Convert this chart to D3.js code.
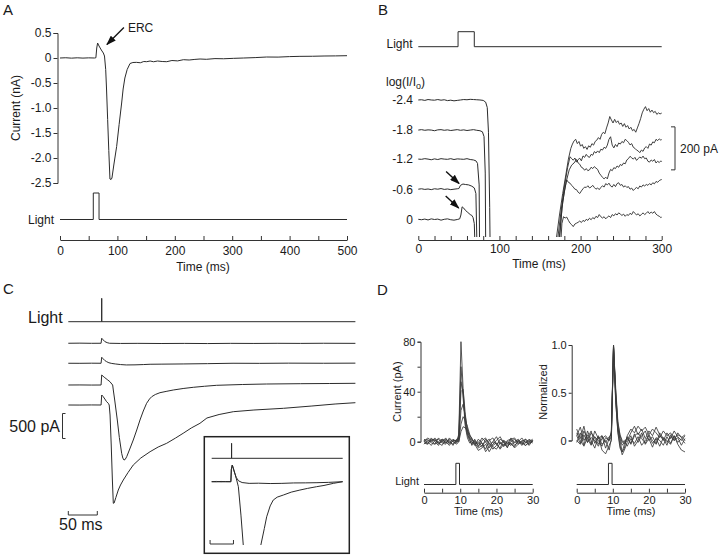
<!DOCTYPE html>
<html>
<head>
<meta charset="utf-8">
<script src="https://cdn.jsdelivr.net/npm/d3@7"></script>
<style>
  body { margin: 0; background: #fff; }
  svg { display: block; font-family: "Liberation Sans", Arial, Helvetica, sans-serif; }
</style>
</head>
<body>
<div id="app"></div>
<script>
const FONT = '"Liberation Sans", Arial, Helvetica, sans-serif'
const INK = "#2b2b2b"

// ---------- data: panel A ----------
const aCurrentTicks = [0.5, 0, -0.5, -1, -1.5, -2, -2.5]
const aTimeTicks = d3.range(0, 501, 50)
const aLight = [[0,0],[58,0],[58,1],[68,1],[68,0],[500,0]]
const aCurrent = [[0,0],[10,0.005],[20,-0.003],[30,0.004],[40,-0.002],[50,0.003],[60,0],[62.5,0.005],[64,0.2],[65.5,0.3],[68,0.24],[72,0.16],[75.5,0.1],[77.5,0.04],[79.6,-0.23],[81,-0.6],[83,-1.23],[85,-1.85],[87,-2.42],[89,-2.43],[90.5,-2.4],[94,-2.12],[98.7,-1.77],[103,-1.33],[107.4,-0.9],[110,-0.62],[113,-0.4],[117,-0.23],[122,-0.11],[127,-0.09],[133,-0.087],[140,-0.095],[146,-0.07],[151,-0.074],[157,-0.06],[163,-0.075],[170,-0.06],[178,-0.07],[186,-0.074],[195,-0.05],[205,-0.058],[215,-0.034],[225,-0.04],[235,-0.028],[244,-0.02],[255,-0.026],[270,-0.012],[285,-0.015],[302,-0.007],[320,0.0],[340,0.008],[360,0.02],[380,0.018],[400,0.028],[418,0.033],[440,0.035],[460,0.04],[480,0.042],[500,0.046]]
const aErc = { t: 80, v: 0.25, text: "ERC" }

// ---------- data: panel B ----------
const bIntensities = ["0", "-0.6", "-1.2", "-1.8", "-2.4"]
const bOffsets = [0, 140, 280, 415, 555]     // pA, vertical stacking of traces
const bTimeTicks = d3.range(0, 301, 20)
const bLight = [[0,0],[49,0],[49,1],[69,1],[69,0],[300,0]]
const bOnset0 = [[0,0],[4,-2],[8,1],[12,-3],[16,2],[20,-1],[24,1],[28,-4],[32,0],[36,2],[40,-2],[44,-4],[48,-1],[51,2],[52.5,20],[54,58],[56,52],[58,42],[61,32],[64,22],[66,18],[67.5,8],[69,-20],[70.5,-200],[71.5,-800]]
const bOnset1 = [[0,0],[4,2],[8,-1],[12,1],[16,-2],[20,2],[24,0],[28,3],[32,-1],[36,1],[40,-2],[44,0],[48,2],[50,3],[52,18],[55,24],[58,22],[62,20],[66,14],[69,6],[71,-20],[72.5,-300],[73.5,-900]]
const bOnset2 = [[0,0],[4,-1],[8,2],[12,0],[16,-3],[20,1],[24,-2],[28,2],[32,0],[36,-1],[40,2],[44,-2],[48,1],[52,0],[56,-1],[60,2],[64,-2],[68,-4],[71,-8],[73,-20],[75,-120],[76.5,-1000]]
const bOnset3 = [[0,0],[4,2],[8,-1],[12,1],[16,0],[20,-3],[24,1],[28,2],[32,-1],[36,1],[40,-2],[44,0],[48,2],[52,-1],[56,1],[60,-2],[64,0],[68,2],[72,-1],[76,-3],[79,-8],[81,-30],[82.5,-200],[84,-1100]]
const bOnset4 = [[0,0],[4,1],[8,-2],[12,2],[16,0],[20,-1],[24,2],[28,-1],[32,1],[36,-3],[40,-1],[44,-4],[48,-2],[52,0],[56,2],[60,1],[64,3],[68,2],[72,1],[76,0],[80,-2],[83,-10],[85,-35],[86.5,-150],[88,-500],[90,-1200]]
const bRecovery1 = [[168,-150],[174,20],[178,120],[182,210],[185,280],[188,330],[190,350],[192,365],[194,372],[196,352],[198,362],[200,340],[202,348],[204,330],[206,338],[208,325],[210,342],[212,335],[214,352],[216,345],[218,362],[220,368],[222,380],[224,372],[226,395],[228,405],[230,398],[232,425],[234,448],[236,478],[238,462],[240,448],[242,465],[244,450],[246,458],[248,442],[250,448],[252,432],[254,445],[256,428],[258,436],[260,420],[262,428],[264,412],[266,418],[268,405],[270,425],[272,445],[274,468],[276,495],[278,512],[280,524],[282,505],[284,515],[286,498],[288,508],[290,496],[292,502],[294,488],[296,495],[298,490],[300,494]]
const bRecovery2 = [[170,-150],[176,40],[180,150],[184,240],[187,291],[189,282],[191,275],[193,285],[195,266],[197,278],[199,284],[201,272],[203,295],[205,288],[207,302],[209,292],[211,288],[213,302],[215,298],[217,315],[219,308],[221,318],[223,310],[225,326],[227,322],[229,335],[231,330],[233,345],[235,372],[237,384],[239,345],[241,332],[243,348],[245,338],[247,355],[249,350],[251,362],[253,356],[255,372],[257,366],[259,358],[261,346],[263,352],[265,335],[267,330],[269,322],[271,318],[273,310],[275,322],[277,316],[279,332],[281,338],[283,330],[285,350],[287,345],[289,360],[291,356],[293,372],[295,366],[297,374],[299,368],[300,371]]
const bRecovery3 = [[172,-150],[178,80],[182,170],[186,230],[189,252],[192,262],[195,278],[197,262],[199,256],[201,242],[203,238],[205,228],[207,236],[209,226],[211,230],[213,242],[215,236],[217,245],[219,238],[221,232],[223,215],[225,205],[227,195],[229,188],[231,196],[233,188],[235,215],[237,232],[239,226],[241,240],[243,236],[245,248],[247,242],[249,255],[251,250],[253,262],[255,258],[257,276],[259,282],[261,293],[263,286],[265,280],[267,288],[269,274],[271,282],[273,290],[275,284],[277,294],[279,282],[281,285],[283,270],[285,266],[287,276],[289,270],[291,278],[293,262],[295,270],[297,264],[299,272],[300,268]]
const bRecovery4 = [[173,-150],[177,50],[180,130],[183,183],[185,172],[187,168],[189,158],[191,150],[193,140],[195,138],[197,126],[199,120],[201,132],[203,142],[205,150],[207,148],[209,156],[211,146],[213,150],[215,158],[217,148],[219,140],[221,146],[223,138],[225,148],[227,156],[229,150],[231,166],[233,160],[235,168],[237,155],[239,150],[241,162],[243,152],[245,166],[247,170],[249,158],[251,162],[253,150],[255,156],[257,148],[259,152],[261,140],[263,145],[265,134],[267,142],[269,148],[271,142],[273,155],[275,150],[277,160],[279,155],[281,162],[283,158],[285,166],[287,160],[289,170],[291,165],[293,176],[295,172],[297,180],[299,184],[300,185]]
const bRecovery5 = [[175,-150],[177,-20],[179,12],[181,6],[183,10],[185,-5],[187,-18],[189,-25],[191,-34],[193,-22],[195,-18],[197,-14],[199,-8],[201,-15],[203,-5],[205,-10],[207,0],[209,-5],[211,5],[213,-2],[215,8],[217,2],[219,14],[221,8],[223,22],[225,12],[227,6],[229,12],[231,2],[233,10],[235,16],[237,8],[239,22],[241,16],[243,26],[245,20],[247,30],[249,24],[251,18],[253,24],[255,14],[257,22],[259,18],[261,28],[263,22],[265,36],[267,28],[269,20],[271,26],[273,16],[275,22],[277,30],[279,22],[281,28],[283,36],[285,26],[287,34],[289,28],[291,36],[293,24],[295,18],[297,14],[299,8],[300,10]]
const bArrows = [{ t: 51.5, v: 162 }, { t: 51, v: 48 }]
const bScale = { from: 230, to: 430, text: "200 pA" }

// ---------- data: panel C ----------
const cOffsets = [1235, 835, 400, 0]   // pA, vertical stacking of traces
const cLight = [[0,0],[57.6,0],[57.6,1],[57.6,0],[495,0]]
const cTrace1 = [[0,0],[20,2],[40,-1],[56.5,0],[57.6,100],[60,70],[63,33],[67,12],[71,0],[90,-4],[120,-2],[160,-5],[200,-3],[240,-6],[280,-2],[320,-4],[360,-1],[400,-3],[440,0],[495,-2]]
const cTrace2 = [[0,0],[20,-1],[40,1],[56.5,0],[57.6,120],[60,90],[63,55],[66,32],[70,10],[75,-4],[81,-14],[90,-26],[100,-34],[115,-32],[130,-26],[141,-20],[160,-18],[198,-14],[240,-8],[284,0],[330,-2],[380,2],[440,0],[495,2]]
const cTrace3 = [[0,0],[20,1],[40,-1],[56.5,0],[57.6,200],[60,175],[63,146],[67,110],[71.8,66],[75,20],[76.5,0],[77.6,-100],[80,-300],[84.5,-700],[88,-1050],[92,-1366],[94,-1460],[96,-1500],[98,-1490],[100.7,-1434],[106,-1280],[112,-1100],[118,-900],[123.6,-700],[129.3,-520],[135,-366],[140,-280],[143.8,-234],[150,-190],[158,-154],[170,-125],[181,-100],[198,-70],[215.5,-46],[235,-25],[255.8,-6],[300,10],[342,20],[400,26],[450,30],[495,34]]
const cTrace4 = [[0,0],[20,-1],[40,1],[56.5,0],[57.6,200],[60,170],[63,120],[66,66],[69,34],[70.5,0],[72,-200],[74,-800],[76,-1500],[77.6,-1966],[79,-1960],[82,-1850],[86.2,-1700],[90,-1600],[94.8,-1500],[103,-1350],[112,-1200],[125,-1060],[141,-934],[155,-840],[169.6,-766],[185,-660],[198,-566],[212,-460],[227,-366],[239,-260],[260,-190],[284.5,-134],[320,-100],[371,-66],[420,-20],[460,20],[495,46]]
const cScale = { pA: 500, ms: 50 }
const insetLight = [[0,0],[8.5,0],[8.5,1],[8.5,0],[56,0]]
const insetDim = [[0,0],[2,3],[4,-2],[6,2],[8.2,0],[8.4,150],[8.8,200],[9.5,130],[10.5,50],[11.5,10],[13,-10],[16,-20],[20,-18],[25,-22],[30,-20],[35,-15],[40,-14],[45,-12],[50,-8],[56,0]]
const insetBright = [[0,0],[2,-2],[4,3],[6,-1],[8.2,0],[8.4,150],[8.8,200],[9.5,140],[10.5,40],[11.4,-60],[12.5,-400],[13.5,-760],[14,-1000],[20.5,-1000],[21,-760],[22.5,-560],[23.5,-420],[25,-290],[26.3,-220],[28,-185],[30.6,-160],[34,-125],[37.7,-100],[41,-80],[44.8,-60],[48,-45],[52,-20],[56,0]]

// ---------- data: panel D ----------
const dTime = [0,1,2,3,4,5,6,7,8,9, 9.6,10.2,10.8,11.4,12,12.6,13.2, 14,15,16,17,18,19,20,21,22,23,24,25,26,27,28,29,30]
const dTimeTicks = d3.range(0, 31, 5)
const dLight = [[0,0],[8.8,0],[8.8,1],[9.8,1],[9.8,0],[30,0]]
const dCurrentTicks = [0, 20, 40, 60, 80]
const dNormTicks = [0, 0.5, 1]
const dCurrent = [
  [1,-2,3,0,-3,2,1,-1,2,0, 6,80,42,14,5,1,-2, 2,-4,1,3,-3,0,4,-2,1,-5,2,3,-1,0,2,-3,1],
  [-2,1,0,3,-1,-3,2,0,-2,1, 4,60,35,12,3,-1,0, -3,2,-1,-6,1,3,-2,0,-4,1,2,-3,0,3,-1,2,0],
  [2,0,-3,1,2,-1,-2,3,0,-1, 3,48,38,16,6,2,-3, 1,-2,3,0,-5,-2,1,4,-1,-3,0,2,-2,1,0,-2,1],
  [0,3,1,-2,0,2,-1,1,-3,2, 2,40,42,22,8,3,0, -2,0,-4,2,-1,-6,-3,2,0,-2,3,-1,1,-3,2,0,-1],
  [-1,-2,2,1,-1,0,3,-2,1,0, 1,25,30,20,10,4,1, 0,-3,-1,-8,-4,0,-2,-5,1,-1,-3,0,2,-2,-1,1,0],
  [1,2,-1,-2,3,0,-1,2,0,-2, 0,14,20,17,12,6,2, -1,-5,-3,0,2,-4,-6,-1,-3,0,-2,-4,1,-1,-3,0,2],
  [0,-1,1,2,-2,1,0,-3,1,1, 0,8,12,11,9,5,3, -2,-7,-5,-2,-8,-3,-1,-6,-2,-4,-1,-5,-2,0,-3,-1,1]
]
const dNormalized = [
  [0.05,-0.03,0.1,0.02,-0.05,0.04,0.0,-0.06,0.03,0.0, 0.1,1.0,0.45,0.12,0.02,-0.05,-0.02, 0.03,-0.04,0.05,0.08,0.02,-0.03,0.06,0.0,-0.04,0.05,0.02,-0.02,0.04,0.0,0.03,-0.05,0.02],
  [0.12,0.02,0.15,-0.02,0.08,0.03,-0.04,0.05,-0.02,0.04, 0.06,1.0,0.5,0.15,0.0,-0.12,-0.08, 0.05,0.12,0.08,0.15,0.1,0.14,0.06,0.12,0.08,0.03,0.1,0.05,0.08,0.02,0.06,0.04,0.0],
  [-0.02,0.08,-0.05,0.1,0.0,-0.08,0.04,-0.1,-0.14,-0.05, 0.0,1.0,0.4,0.1,-0.05,-0.15,-0.1, -0.02,0.05,-0.06,0.0,0.08,-0.04,0.02,-0.07,0.03,0.0,-0.05,0.04,-0.03,0.05,-0.04,-0.1,-0.12],
  [0.05,0.14,0.0,0.06,-0.04,0.1,0.02,0.05,-0.08,0.02, 0.08,0.98,0.55,0.2,0.06,0.0,-0.03, 0.0,0.08,0.15,0.06,0.12,0.02,0.1,0.05,0.14,0.06,0.0,0.08,0.02,0.1,0.04,0.0,0.05],
  [0.0,-0.04,0.06,-0.02,0.03,0.0,-0.06,0.02,0.05,0.0, 0.04,0.97,0.5,0.18,0.05,-0.02,0.0, -0.06,0.02,-0.03,0.04,-0.05,0.0,0.05,-0.03,0.02,-0.06,0.03,0.0,-0.04,0.05,-0.02,0.02,-0.03],
  [0.08,0.0,-0.06,0.03,0.1,-0.03,0.05,-0.04,0.0,-0.1, 0.02,0.99,0.42,0.08,-0.08,-0.12,-0.04, 0.04,-0.03,0.07,-0.02,0.05,0.1,0.0,0.04,-0.03,0.08,0.02,-0.05,0.06,0.0,0.08,0.03,0.06]
]

// ---------- helpers ----------
const svg = d3.select("#app").append("svg").attr("width", 720).attr("height", 555)
const defs = svg.append("defs")
defs.append("marker").attr("id", "head")
  .attr("viewBox", "0 0 10 7").attr("refX", 9).attr("refY", 3.5)
  .attr("markerWidth", 10).attr("markerHeight", 7)
  .attr("markerUnits", "userSpaceOnUse").attr("orient", "auto")
  .append("path").attr("d", "M0,0L10,3.5L0,7z").attr("fill", "#111")

function clip(id, x, y, w, h) {
  defs.append("clipPath").attr("id", id).append("rect")
    .attr("x", x).attr("y", y).attr("width", w).attr("height", h)
}

function trace(data, x, y, opts = {}) {
  const off = opts.offset || 0
  return svg.append("path").datum(data)
    .attr("fill", "none")
    .attr("stroke", opts.stroke || INK)
    .attr("stroke-width", opts.width || 1)
    .attr("stroke-linejoin", "round")
    .attr("clip-path", opts.clip ? `url(#${opts.clip})` : null)
    .attr("d", d3.line().x(d => x(d[0])).y(d => y(d[1] + off)))
}

function text(x, y, str, size, anchor = "start") {
  return svg.append("text").attr("x", x).attr("y", y)
    .attr("font-size", size).attr("text-anchor", anchor).attr("fill", "#1a1a1a")
    .text(str)
}

function vtext(x, y, str, size) {
  return svg.append("text").attr("transform", `translate(${x},${y}) rotate(-90)`)
    .attr("font-size", size).attr("text-anchor", "middle").attr("fill", "#1a1a1a")
    .text(str)
}

function styleAxis(g, size) {
  g.attr("font-size", size).attr("font-family", FONT)
  g.selectAll("path, line").attr("stroke", "#333")
  g.selectAll("text").attr("fill", "#1a1a1a")
}

function timeAxis(x, y0, ticks, every, size, pad) {
  svg.append("g").attr("transform", `translate(0,${y0})`)
    .call(d3.axisBottom(x).tickValues(ticks).tickSizeInner(-4).tickSizeOuter(0).tickPadding(pad)
      .tickFormat(d => d % every === 0 ? d : ""))
    .call(g => styleAxis(g, size))
}

const fmtSigned = d => d === 0 ? "0" : (d < 0 ? "-" : "") + Math.abs(d).toFixed(1)

// panel letters
text(3, 15, "A", 15); text(378, 15, "B", 15); text(3, 294, "C", 15); text(377, 295, "D", 15)

// ---------- panel A ----------
const xA = d3.scaleLinear().domain([0, 500]).range([60, 347])
const yA = d3.scaleLinear().domain([-2.5, 0.5]).range([183, 33])
const yLightA = d3.scaleLinear().domain([0, 1]).range([219.5, 193])

svg.append("g").attr("transform", "translate(57.5,0)")
  .call(d3.axisLeft(yA).tickValues(aCurrentTicks).tickSize(4).tickPadding(2).tickFormat(fmtSigned))
  .call(g => styleAxis(g, 12))
vtext(20, 108, "Current (nA)", 12)

trace(aCurrent, xA, yA)
trace(aLight, xA, yLightA)
text(54, 224, "Light", 12, "end")

timeAxis(xA, 240, aTimeTicks, 100, 12, 6)
text(203, 271, "Time (ms)", 12, "middle")

// ERC arrow
{
  const tx = xA(aErc.t), ty = yA(aErc.v)
  svg.append("line").attr("x1", tx + 18).attr("y1", ty - 18).attr("x2", tx + 1).attr("y2", ty - 1)
    .attr("stroke", "#111").attr("stroke-width", 1.3).attr("marker-end", "url(#head)")
  text(tx + 22, ty - 13.5, aErc.text, 12)
}

// ---------- panel B ----------
const xB = d3.scaleLinear().domain([0, 300]).range([418.3, 661.7])
const yB = d3.scaleLinear().domain([0, 200]).range([219.3, 176.3])
const yLightB = d3.scaleLinear().domain([0, 1]).range([46.7, 31.7])
clip("clipB", 400, 60, 300, 177)

trace(bLight, xB, yLightB)
text(412.5, 48, "Light", 12, "end")

const logLabel = text(386, 86, "log(I/I", 12)
logLabel.append("tspan").attr("font-size", 9).attr("dy", 3).text("o")
logLabel.append("tspan").attr("dy", -3).text(")")

;[bOnset0, bOnset1, bOnset2, bOnset3, bOnset4].forEach((d, i) => {
  trace(d, xB, yB, { offset: bOffsets[i], clip: "clipB" })
  text(413, yB(bOffsets[i]) + 4.3, bIntensities[i], 12, "end")
})
;[bRecovery1, bRecovery2, bRecovery3, bRecovery4, bRecovery5].forEach(d => trace(d, xB, yB, { clip: "clipB", width: 0.9 }))

bArrows.forEach(a => {
  const tx = xB(a.t), ty = yB(a.v)
  svg.append("line").attr("x1", tx - 14).attr("y1", ty - 13).attr("x2", tx - 1).attr("y2", ty - 1)
    .attr("stroke", "#111").attr("stroke-width", 1.4).attr("marker-end", "url(#head)")
})

// 200 pA scale bar
svg.append("path")
  .attr("d", `M671,${yB(bScale.to)}H675V${yB(bScale.from)}H671`)
  .attr("fill", "none").attr("stroke", "#333")
text(680, yB((bScale.from + bScale.to) / 2) + 4.5, bScale.text, 12)

timeAxis(xB, 240, bTimeTicks, 100, 12, 4)
text(539, 268, "Time (ms)", 12, "middle")

// ---------- panel C ----------
const xC = d3.scaleLinear().domain([0, 495]).range([68.3, 355.4])
const yC = d3.scaleLinear().domain([0, 500]).range([405, 380])
const yLightC = d3.scaleLinear().domain([0, 1]).range([321.7, 298.3])

trace(cLight, xC, yLightC)
text(62.7, 323, "Light", 16, "end")
;[cTrace1, cTrace2, cTrace3, cTrace4].forEach((d, i) => trace(d, xC, yC, { offset: cOffsets[i] }))

// scale bars
{
  const bx = xC(-10), top = yC(-170), bot = yC(-170 - cScale.pA)
  svg.append("path").attr("d", `M${bx + 3},${top}H${bx}V${bot}H${bx + 3}`)
    .attr("fill", "none").attr("stroke", "#333")
  text(bx - 2.5, (top + bot) / 2 + 5.5, cScale.pA + " pA", 16, "end")
  const by = yC(-2200)
  svg.append("path").attr("d", `M${xC(0)},${by - 4}V${by}H${xC(cScale.ms)}V${by - 4}`)
    .attr("fill", "none").attr("stroke", "#333")
  text((xC(0) + xC(cScale.ms)) / 2 - 2, 530, cScale.ms + " ms", 16, "middle")
}

// inset
svg.append("rect").attr("x", 204.3).attr("y", 436.7).attr("width", 145).attr("height", 116.6)
  .attr("fill", "none").attr("stroke", "#222").attr("stroke-width", 1.5)
const xI = d3.scaleLinear().domain([0, 56]).range([211.7, 342.7])
const yI = d3.scaleLinear().domain([0, 200]).range([481.7, 465])
const yLightI = d3.scaleLinear().domain([0, 1]).range([458.3, 443.3])
clip("clipI", 205, 437.5, 143.5, 107.5)
trace(insetLight, xI, yLightI)
trace(insetDim, xI, yI, { clip: "clipI" })
trace(insetBright, xI, yI, { clip: "clipI" })
svg.append("path").attr("d", `M${xI(-0.7)},540V544H${xI(9.3)}V540`)
  .attr("fill", "none").attr("stroke", "#333")

// ---------- panel D ----------
const xDL = d3.scaleLinear().domain([0, 30]).range([424, 532.7])
const yDL = d3.scaleLinear().domain([0, 80]).range([441.7, 341.7])
const xDR = d3.scaleLinear().domain([0, 30]).range([576.7, 685])
const yDR = d3.scaleLinear().domain([0, 1]).range([440.5, 345])
const yLightD = d3.scaleLinear().domain([0, 1]).range([484.5, 463.3])

svg.append("g").attr("transform", "translate(420.5,0)")
  .call(d3.axisLeft(yDL).tickValues(dCurrentTicks).tickSize(3).tickPadding(2)
    .tickFormat(d => d % 40 === 0 ? d : ""))
  .call(g => styleAxis(g, 11))
vtext(401, 391.7, "Current (pA)", 11)

svg.append("g").attr("transform", "translate(571.7,0)")
  .call(d3.axisLeft(yDR).tickValues(dNormTicks).tickSize(3).tickPadding(2).tickFormat(fmtSigned))
  .call(g => styleAxis(g, 11))
vtext(547, 392, "Normalized", 11)

dCurrent.forEach(v => trace(v.map((y, i) => [dTime[i], y]), xDL, yDL, { stroke: "#3a3a3a", width: 0.85 }))
dNormalized.forEach(v => trace(v.map((y, i) => [dTime[i], y]), xDR, yDR, { stroke: "#3a3a3a", width: 0.85 }))

trace(dLight, xDL, yLightD)
trace(dLight, xDR, yLightD)
text(419, 485, "Light", 11, "end")

timeAxis(xDL, 492.7, dTimeTicks, 10, 11, 4)
timeAxis(xDR, 492.7, dTimeTicks, 10, 11, 4)
text(478.5, 515, "Time (ms)", 11, "middle")
text(631, 515, "Time (ms)", 11, "middle")
</script>
</body>
</html>
